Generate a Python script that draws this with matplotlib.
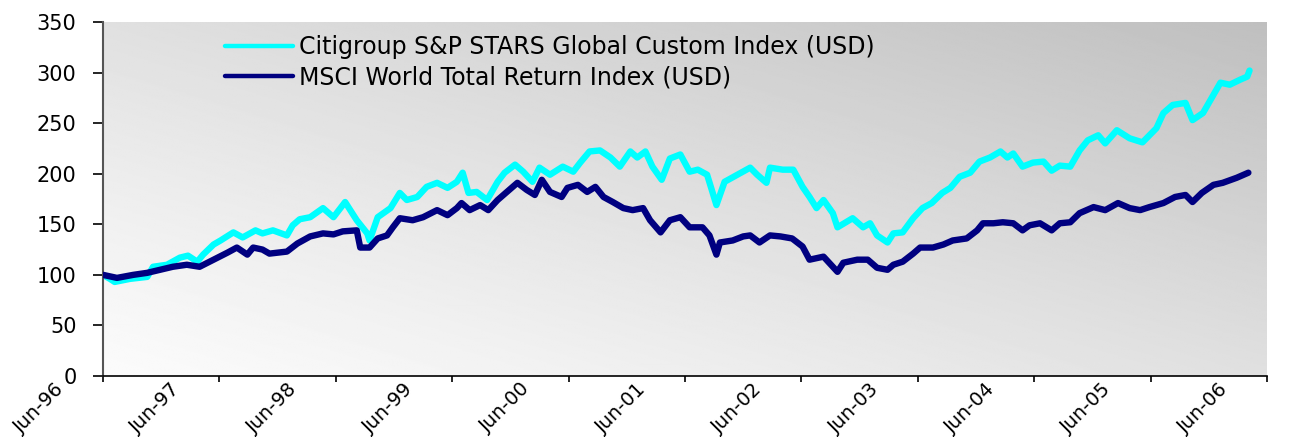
import numpy as np
import matplotlib
matplotlib.use("Agg")
import matplotlib.pyplot as plt
import matplotlib.transforms as mtransforms

plt.rcParams["font.family"] = ["DejaVu Sans"]

# index levels, time in decimal years
citi_t = [1996.50, 1996.56, 1996.60, 1996.73, 1996.88, 1996.93, 1997.05, 1997.16, 1997.23, 1997.31,
          1997.36, 1997.45, 1997.51, 1997.62, 1997.70, 1997.81, 1997.87, 1997.96, 1998.08, 1998.13,
          1998.19, 1998.28, 1998.39, 1998.48, 1998.58, 1998.68, 1998.77, 1998.79, 1998.86, 1998.97,
          1999.05, 1999.11, 1999.20, 1999.28, 1999.37, 1999.46, 1999.54, 1999.59, 1999.64, 1999.71,
          1999.80, 1999.89, 1999.95, 2000.04, 2000.11, 2000.19, 2000.25, 2000.34, 2000.45, 2000.54,
          2000.60, 2000.68, 2000.77, 2000.86, 2000.94, 2001.03, 2001.09, 2001.16, 2001.22, 2001.30,
          2001.37, 2001.46, 2001.54, 2001.61, 2001.69, 2001.77, 2001.84, 2001.95, 2002.06, 2002.12,
          2002.20, 2002.23, 2002.34, 2002.43, 2002.51, 2002.57, 2002.63, 2002.69, 2002.77, 2002.81,
          2002.94, 2003.03, 2003.09, 2003.15, 2003.24, 2003.29, 2003.37, 2003.46, 2003.54, 2003.62,
          2003.71, 2003.78, 2003.86, 2003.95, 2004.03, 2004.12, 2004.21, 2004.27, 2004.32, 2004.40,
          2004.49, 2004.58, 2004.65, 2004.72, 2004.81, 2004.89, 2004.96, 2005.05, 2005.11, 2005.21,
          2005.32, 2005.43, 2005.49, 2005.55, 2005.61, 2005.69, 2005.80, 2005.86, 2005.95, 2006.04,
          2006.10, 2006.18, 2006.27, 2006.33, 2006.35]
citi_v = [100, 96, 93, 96, 98, 108, 110, 117, 119, 113,
          120, 130, 134, 142, 137, 144, 141, 144, 139, 149,
          155, 157, 166, 157, 172, 154, 141, 134, 157, 166,
          181, 174, 177, 187, 191, 186, 192, 201, 181, 182,
          174, 192, 201, 209, 202, 192, 206, 199, 207, 202,
          211, 222, 223, 216, 207, 222, 216, 222, 207, 194,
          215, 219, 202, 204, 199, 169, 192, 199, 206, 199,
          191, 206, 204, 204, 187, 177, 166, 174, 161, 147,
          156, 147, 151, 139, 132, 141, 142, 156, 166, 171,
          181, 186, 197, 201, 212, 216, 222, 216, 220, 207,
          211, 212, 203, 208, 207, 223, 233, 238, 230, 243,
          235, 231, 238, 245, 260, 268, 270, 253, 260, 278,
          290, 288, 293, 296, 302]

msci_t = [1996.50, 1996.62, 1996.76, 1996.88, 1996.99, 1997.10, 1997.22, 1997.33, 1997.45, 1997.57,
          1997.65, 1997.74, 1997.79, 1997.87, 1997.93, 1998.08, 1998.17, 1998.28, 1998.39, 1998.48,
          1998.56, 1998.68, 1998.71, 1998.79, 1998.86, 1998.94, 1998.99, 1999.05, 1999.16, 1999.25,
          1999.37, 1999.46, 1999.54, 1999.58, 1999.65, 1999.74, 1999.81, 1999.89, 1999.97, 2000.06,
          2000.14, 2000.21, 2000.27, 2000.34, 2000.44, 2000.49, 2000.58, 2000.66, 2000.73, 2000.80,
          2000.88, 2000.97, 2001.05, 2001.14, 2001.20, 2001.29, 2001.37, 2001.46, 2001.54, 2001.65,
          2001.71, 2001.77, 2001.80, 2001.91, 2002.00, 2002.06, 2002.14, 2002.23, 2002.32, 2002.42,
          2002.51, 2002.57, 2002.69, 2002.81, 2002.86, 2002.98, 2003.07, 2003.15, 2003.24, 2003.29,
          2003.37, 2003.46, 2003.52, 2003.63, 2003.72, 2003.80, 2003.92, 2004.01, 2004.06, 2004.15,
          2004.23, 2004.32, 2004.40, 2004.46, 2004.55, 2004.65, 2004.72, 2004.81, 2004.89, 2005.01,
          2005.11, 2005.22, 2005.32, 2005.41, 2005.49, 2005.61, 2005.71, 2005.80, 2005.86, 2005.94,
          2006.04, 2006.12, 2006.24, 2006.34]
msci_v = [100, 97, 100, 102, 105, 108, 110, 108, 115, 122,
          127, 120, 127, 125, 121, 123, 131, 138, 141, 140,
          143, 144, 127, 127, 136, 139, 147, 156, 154, 157,
          164, 159, 166, 171, 164, 169, 164, 174, 182, 191,
          184, 179, 194, 182, 177, 186, 189, 182, 187, 177,
          172, 166, 164, 166, 154, 142, 154, 157, 147, 147,
          139, 120, 132, 134, 138, 139, 132, 139, 138, 136,
          128, 115, 118, 103, 112, 115, 115, 107, 105, 110,
          113, 121, 127, 127, 130, 134, 136, 144, 151, 151,
          152, 151, 144, 149, 151, 144, 151, 152, 161, 167,
          164, 171, 166, 164, 167, 171, 177, 179, 172, 181,
          189, 191, 196, 201]

tick_years = [1996.5 + i for i in range(11)]
tick_labels = ["Jun-96", "Jun-97", "Jun-98", "Jun-99", "Jun-00", "Jun-01",
               "Jun-02", "Jun-03", "Jun-04", "Jun-05", "Jun-06"]
y_ticks = [0, 50, 100, 150, 200, 250, 300, 350]

fig = plt.figure(figsize=(12.92, 4.37), dpi=100)
ax = fig.add_axes([103 / 1292, 1 - 376 / 437, 1164 / 1292, 354 / 437])

# diagonal grey gradient behind the plot area
gx, gy = np.meshgrid(np.linspace(0, 1, 300), np.linspace(0, 1, 300))
grad = 251 - 60 * ((gx + gy) / 2) ** 1.15
ax.imshow(grad, extent=(0, 1, 0, 1), transform=ax.transAxes, origin="lower",
          cmap="gray", vmin=0, vmax=255, aspect="auto", zorder=0,
          interpolation="bilinear")

ax.plot(citi_t, citi_v, color="#00FFFF", lw=4.6, solid_joinstyle="round",
        solid_capstyle="round", label="Citigroup S&P STARS Global Custom Index (USD)", zorder=2)
ax.plot(msci_t, msci_v, color="#000080", lw=4.6, solid_joinstyle="round",
        solid_capstyle="round", label="MSCI World Total Return Index (USD)", zorder=3)

ax.set_yticks(y_ticks)
ax.set_xticks(tick_years)
ax.set_xticklabels([])
ax.tick_params(axis="x", direction="out", length=4, width=1.2)
ax.tick_params(axis="y", direction="out", length=7, width=1.2, pad=12, labelsize=15)
ax.set_xlim(1996.5, 2006.5)
ax.set_ylim(0, 350)

# date labels sit a little to the left of their tick, slanted at 45 degrees
lab_tr = mtransforms.blended_transform_factory(ax.transData, ax.transAxes)
lab_tr = lab_tr + mtransforms.ScaledTranslation(-0.42, -0.10, fig.dpi_scale_trans)
for t, lab in zip(tick_years, tick_labels):
    ax.text(t, 0, lab, transform=lab_tr, rotation=45, ha="right", va="center",
            rotation_mode="anchor", fontsize=14, clip_on=False)

for side in ["top", "right"]:
    ax.spines[side].set_visible(False)
ax.spines["left"].set_color("#555555")
ax.spines["left"].set_linewidth(1.5)
ax.spines["bottom"].set_color("black")
ax.spines["bottom"].set_linewidth(1.2)

leg = ax.legend(loc="upper left", bbox_to_anchor=(0.1048, 0.962), frameon=False,
                fontsize=17, handlelength=2.9, handletextpad=0.25, labelspacing=0.25,
                borderpad=0, borderaxespad=0)
for h in leg.get_lines():
    h.set_linewidth(3.2)

fig.savefig("out.png", dpi=100)
